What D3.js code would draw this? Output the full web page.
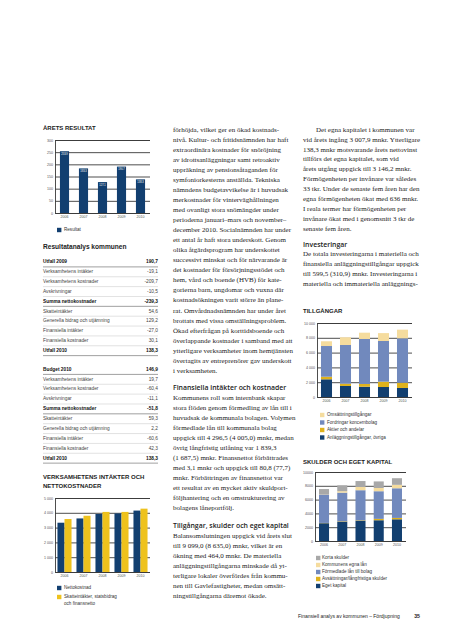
<!DOCTYPE html>
<html><head><meta charset="utf-8">
<script src="https://cdn.jsdelivr.net/npm/d3@7"></script>
<style>body{margin:0;background:#fff}svg{display:block}</style>
</head><body><svg id="page" width="453" height="640"></svg>
<script>
// ---------- DATA ----------
const years = ["2006","2007","2008","2009","2010"];
const resultat = [253.9, 183.3, 127.1, 190.7, 138.3];
const resultatTicks = [0,50,100,150,200,250,300];

const nettokostnad = [3330,3620,3920,3960,4150];
const skatteintakter = [3580,3800,4060,4060,4280];
const nettoTicks = [0,1000,2000,3000,4000,5000];

const anlaggOvriga = [2390,1490,1390,1350,1220];
const aktierAndelar = [350,310,370,720,710];
const fordringarKoncern = [4150,5230,6080,5500,6000];
const omsattning = [640,1040,850,1065,1169];
const tillgTicks = [0,2000,4000,6000,8000,10000];

const egetKapital = [2580,2810,2950,3008,3146];
const avsattningar = [40,60,60,200,200];
const formedladeLan = [4060,4140,4350,4005,4296];
const egnaLan = [30,210,470,470,500];
const kortaSkulder = [820,850,860,952,957];
const skuldTicks = [0,2000,4000,6000,8000,10000];

const rowLabels = ["Verksamhetens intäkter","Verksamhetens kostnader","Avskrivningar","Summa nettokostnader","Skatteintäkter","Generella bidrag och utjämning","Finansiella intäkter","Finansiella kostnader"];
const utfallValues = ["190,7","-19,1","-209,7","-10,5","-239,3","54,6","129,2","-27,0","30,1","138,3"];
const budgetValues = ["146,9","19,7","-60,4","-11,1","-51,8","59,3","2,2","-60,6","42,3","138,3"];

const midPara1 = ["förhöjda, vilket ger en ökad kostnads-","nivå. Kultur- och fritidsnämnden har haft","extraordinära kostnader för snöröjning","av idrottsanläggningar samt retroaktiv","uppräkning av pensionsåtaganden för","symfoniorkesterns anställda. Tekniska","nämndens budgetavvikelse är i huvudsak","merkostnader för vinterväghållningen","med ovanligt stora snömängder under","perioderna januari–mars och november–","december 2010. Socialnämnden har under","ett antal år haft stora underskott. Genom","olika åtgärdsprogram har underskottet","successivt minskat och för närvarande är","det kostnader för försörjningsstödet och","hem, vård och boende (HVB) för kate-","gorierna barn, ungdomar och vuxna där","kostnadsökningen varit större än plane-","rat. Omvårdnadsnämnden har under året","brottats med vissa omställningsproblem.","Ökad efterfrågan på korttidsboende och","överlappande kostnader i samband med att","ytterligare verksamheter inom hemtjänsten","övertagits av entreprenörer gav underskott","i verksamheten."];
const midHead2 = "Finansiella intäkter och kostnader";
const midPara2 = ["Kommunens roll som internbank skapar","stora flöden genom förmedling av lån till i","huvudsak de kommunala bolagen. Volymen","förmedlade lån till kommunala bolag","uppgick till 4 296,5 (4 005,0) mnkr, medan","övrig långfristig utlåning var 1 839,3","(1 687,5) mnkr. Finansnettot förbättrades","med 3,1 mnkr och uppgick till 80,8 (77,7)","mnkr. Förbättringen av finansnettot var","ett resultat av en mycket aktiv skuldport-","följhantering och en omstrukturering av","bolagens låneportfölj."];
const midHead3 = "Tillgångar, skulder och eget kapital";
const midPara3 = ["Balansomslutningen uppgick vid årets slut","till 9 099,0 (8 635,0) mnkr, vilket är en","ökning med 464,0 mnkr. De materiella","anläggningstillgångarna minskade då yt-","terligare lokaler överfördes från kommu-","nen till Gavlefastigheter, medan omsätt-","ningstillgångarna däremot ökade."];
const rightPara1 = ["Det egna kapitalet i kommunen var","vid årets ingång 3 007,9 mnkr. Ytterligare","138,3 mnkr motsvarande årets nettovinst","tillförs det egna kapitalet, som vid","årets utgång uppgick till 3 146,2 mnkr.","Förmögenheten per invånare var således","33 tkr. Under de senaste fem åren har den","egna förmögenheten ökat med 636 mnkr.","I reala termer har förmögenheten per","invånare ökat med i genomsnitt 3 tkr de","senaste fem åren."];
const rightHead2 = "Investeringar";
const rightPara2 = ["De totala investeringarna i materiella och","finansiella anläggningstillgångar uppgick","till 599,5 (310,9) mnkr. Investeringarna i","materiella och immateriella anläggnings-"];

// ---------- STYLE ----------
const NAVY="#123f70", GOLD="#eec21d", BLUE="#7189bd", PALE="#f5dc9e", GOLD2="#dfb21c", GREY="#a8a8a8";
const SANS="'Liberation Sans', Arial, sans-serif", SERIF="'Liberation Serif', serif", HEAD="'Open Sans', sans-serif";
const svg = d3.select("#page");

function txt(x,y,s,o={}){
  return svg.append("text").attr("x",x).attr("y",y).text(s)
    .attr("font-family",o.f||SANS).attr("font-size",o.s||5)
    .attr("font-weight",o.w||"normal").attr("fill",o.c||"#222")
    .attr("text-anchor",o.a||"start").attr("dominant-baseline","middle");
}

function axes(x0,x1,y,ticks,fmt){
  const g = svg.append("g").attr("transform",`translate(${x0},0)`);
  g.call(d3.axisLeft(y).tickValues(ticks).tickSize(-(x1-x0)).tickPadding(2).tickFormat(fmt));
  g.selectAll(".tick line").attr("stroke","#3a3a3a").attr("stroke-width",0.9);
  g.select(".domain").attr("stroke","#3a3a3a").attr("stroke-width",0.9);
  g.selectAll(".tick text").attr("font-family",SANS).attr("font-size",3.6).attr("fill","#555");
  return g;
}
function xaxis(x,y0){
  const g = svg.append("g").attr("transform",`translate(0,${y0+5})`);
  g.call(d3.axisBottom(x).tickSize(0).tickPadding(0));
  g.select(".domain").remove();
  g.selectAll(".tick text").attr("font-family",SANS).attr("font-size",3.6).attr("fill","#555").attr("dy","0.1em");
}
function legend(x,y,color,lines,gap){
  svg.append("rect").attr("x",x).attr("y",y-2.2).attr("width",4.4).attr("height",4.4).attr("fill",color);
  lines.forEach((l,i)=>txt(x+(gap||7),y+i*7,l,{s:4.6,c:"#333"}));
}
const fmtSpace = d => d3.format(",")(d).replace(/,/g," ");

// ---------- CHART 1: ÅRETS RESULTAT ----------
txt(43,128,"ÅRETS RESULTAT",{w:"bold",s:6});
{
  const x = d3.scaleBand().domain(years).range([55,150]).paddingInner(0.52).paddingOuter(0.26);
  const y = d3.scaleLinear().domain([0,300]).range([213,140]);
  axes(55,150,y,resultatTicks,d=>d);
  svg.append("g").selectAll("rect").data(years).join("rect")
    .attr("x",d=>x(d)).attr("width",x.bandwidth())
    .attr("y",(d,i)=>y(resultat[i])).attr("height",(d,i)=>y(0)-y(resultat[i])).attr("fill",NAVY);
  svg.append("g").selectAll("text").data(years).join("text")
    .attr("x",d=>x(d)+x.bandwidth()/2).attr("y",(d,i)=>y(resultat[i])+3.5)
    .attr("text-anchor","middle").attr("font-family",SANS).attr("font-size",2.6).attr("fill","#fff")
    .text((d,i)=>String(resultat[i]));
  xaxis(x,213);
  legend(57,230,NAVY,["Resultat"]);
}

// ---------- TABLES ----------
txt(43,247,"Resultatanalys kommunen",{w:"bold",s:6.6});
function table(y0,header,footer,values){
  const labels=[header,...rowLabels,footer];
  const bold=[0,4,9];
  labels.forEach((l,i)=>{
    const yy=y0+i*9.86, b=bold.includes(i);
    txt(43,yy,l,{s:4.8,w:b?"bold":"normal",c:b?"#111":"#444"});
    txt(158,yy,values[i],{s:4.8,w:b?"bold":"normal",c:b?"#111":"#444",a:"end"});
    svg.append("line").attr("x1",43).attr("x2",158).attr("y1",yy+4.9).attr("y2",yy+4.9)
      .attr("stroke",b?"#777":"#c4c4c4").attr("stroke-width",b?0.7:0.5);
  });
}
table(262,"Utfall 2009","Utfall 2010",utfallValues);
table(369.5,"Budget 2010","Utfall 2010",budgetValues);

// ---------- CHART 3 ----------
txt(43,477,"VERKSAMHETENS INTÄKTER OCH",{w:"bold",s:6});
txt(43,486.5,"NETTOKOSTNADER",{w:"bold",s:6});
{
  const x = d3.scaleBand().domain(years).range([55,150]).paddingInner(0.26).paddingOuter(0.13);
  const xs = d3.scaleBand().domain(["n","s"]).range([0,x.bandwidth()]);
  const y = d3.scaleLinear().domain([0,5000]).range([572,498]);
  axes(55,150,y,nettoTicks,fmtSpace);
  const g = svg.append("g").selectAll("g").data(years).join("g").attr("transform",d=>`translate(${x(d)},0)`);
  g.append("rect").attr("x",xs("n")).attr("width",xs.bandwidth())
    .attr("y",(d,i)=>y(nettokostnad[i])).attr("height",(d,i)=>y(0)-y(nettokostnad[i])).attr("fill",NAVY);
  g.append("rect").attr("x",xs("s")).attr("width",xs.bandwidth())
    .attr("y",(d,i)=>y(skatteintakter[i])).attr("height",(d,i)=>y(0)-y(skatteintakter[i])).attr("fill",GOLD);
  xaxis(x,572);
  legend(57,588,NAVY,["Nettokostnad"]);
  legend(57,597,GOLD,["Skatteintäkter, statsbidrag","och finansnetto"]);
}

// ---------- BODY TEXT ----------
function para(x,y0,lines,lh,indent){
  lines.forEach((l,i)=>txt(x+(i===0&&indent?indent:0),y0+i*lh,l,{f:SERIF,s:7,c:"#222"}));
}
function head(x,y,s){ txt(x,y,s,{f:HEAD,s:6.9,w:600,c:"#222"}); }
para(173,130,midPara1,10.05);
head(173,388,midHead2);
para(173,398,midPara2,10.05);
head(173,526,midHead3);
para(173,536,midPara3,10.05);
para(303,130,rightPara1,9.95,13);
head(303,245,rightHead2);
para(303,254.5,rightPara2,9.8);

// ---------- TILLGÅNGAR ----------
txt(303,311,"TILLGÅNGAR",{w:"bold",s:6});
{
  const keys=["anl","akt","ford","oms"];
  const src={anl:anlaggOvriga,akt:aktierAndelar,ford:fordringarKoncern,oms:omsattning};
  const rows=years.map((yr,i)=>({year:yr,anl:src.anl[i],akt:src.akt[i],ford:src.ford[i],oms:src.oms[i]}));
  const col={anl:NAVY,akt:GOLD2,ford:BLUE,oms:PALE};
  const x = d3.scaleBand().domain(years).range([317,412]).paddingInner(0.42).paddingOuter(0.21);
  const y = d3.scaleLinear().domain([0,10000]).range([397,323]);
  axes(317,412,y,tillgTicks,fmtSpace);
  svg.append("g").selectAll("g").data(d3.stack().keys(keys)(rows)).join("g").attr("fill",d=>col[d.key])
    .selectAll("rect").data(d=>d).join("rect")
    .attr("x",d=>x(d.data.year)).attr("width",x.bandwidth())
    .attr("y",d=>y(d[1])).attr("height",d=>y(d[0])-y(d[1]));
  xaxis(x,397);
  legend(320,415,PALE,["Omsättningstillgångar"]);
  legend(320,422.5,BLUE,["Fordringar koncernbolag"]);
  legend(320,430,GOLD2,["Aktier och andelar"]);
  legend(320,437.5,NAVY,["Anläggningstillgångar, övriga"]);
}

// ---------- SKULDER OCH EGET KAPITAL ----------
txt(303,462,"SKULDER OCH EGET KAPITAL",{w:"bold",s:6});
{
  const keys=["eget","avs","form","egna","korta"];
  const src={eget:egetKapital,avs:avsattningar,form:formedladeLan,egna:egnaLan,korta:kortaSkulder};
  const rows=years.map((yr,i)=>{const r={year:yr};keys.forEach(k=>r[k]=src[k][i]);return r;});
  const col={eget:NAVY,avs:GOLD2,form:BLUE,egna:PALE,korta:GREY};
  const x = d3.scaleBand().domain(years).range([315,406]).paddingInner(0.45).paddingOuter(0.22);
  const y = d3.scaleLinear().domain([0,10000]).range([541,472]);
  axes(315,406,y,skuldTicks,d=>d);
  svg.append("g").selectAll("g").data(d3.stack().keys(keys)(rows)).join("g").attr("fill",d=>col[d.key])
    .selectAll("rect").data(d=>d).join("rect")
    .attr("x",d=>x(d.data.year)).attr("width",x.bandwidth())
    .attr("y",d=>y(d[1])).attr("height",d=>y(d[0])-y(d[1]));
  xaxis(x,541);
  legend(316,558,GREY,["Korta skulder"],6);
  legend(316,565,PALE,["Kommunens egna lån"],6);
  legend(316,572,BLUE,["Förmedlade lån till bolag"],6);
  legend(316,579,GOLD2,["Avsättningar/långfristiga skulder"],6);
  legend(316,586,NAVY,["Eget kapital"],6);
}

// ---------- FOOTER ----------
txt(298,617,"Finansiell analys av kommunen – Fördjupning",{s:5,c:"#222"});
txt(420,617,"35",{s:5.2,w:"bold",c:"#222",a:"end"});
</script></body></html>
